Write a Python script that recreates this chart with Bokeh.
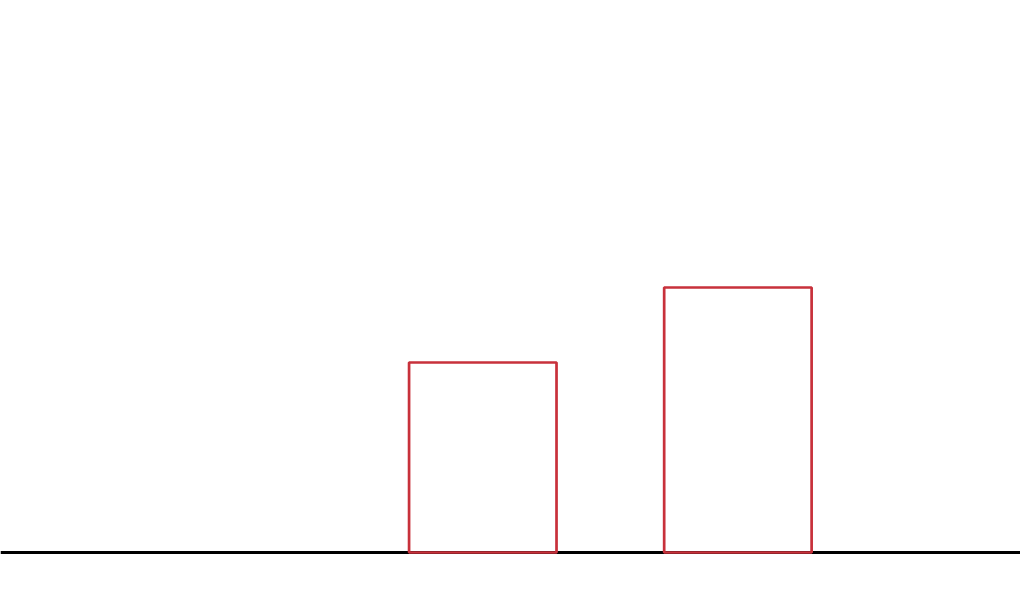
from bokeh.plotting import figure
from bokeh.models import Range1d, Span, ColumnDataSource
from bokeh.embed import file_html
from bokeh.resources import INLINE

# Data
positions = [1, 2]
values = [19.0, 26.5]

src = ColumnDataSource(dict(x=positions, top=values))

p = figure(width=1020, height=600, output_backend="svg", toolbar_location=None,
           x_range=Range1d(-0.8906, 3.1078), y_range=Range1d(-4.8, 55.2),
           min_border=0, outline_line_color=None, background_fill_color="white",
           border_fill_color="white")
p.axis.visible = False
p.grid.visible = False

p.add_layout(Span(location=0, dimension="width", line_color="black", line_width=3,
                  level="underlay"))
p.vbar(x="x", top="top", bottom=0, width=0.578, source=src,
       fill_color="white", fill_alpha=0.0, line_color="#c8313b", line_width=2.7)

open("out.html", "w").write(file_html(p, INLINE))
